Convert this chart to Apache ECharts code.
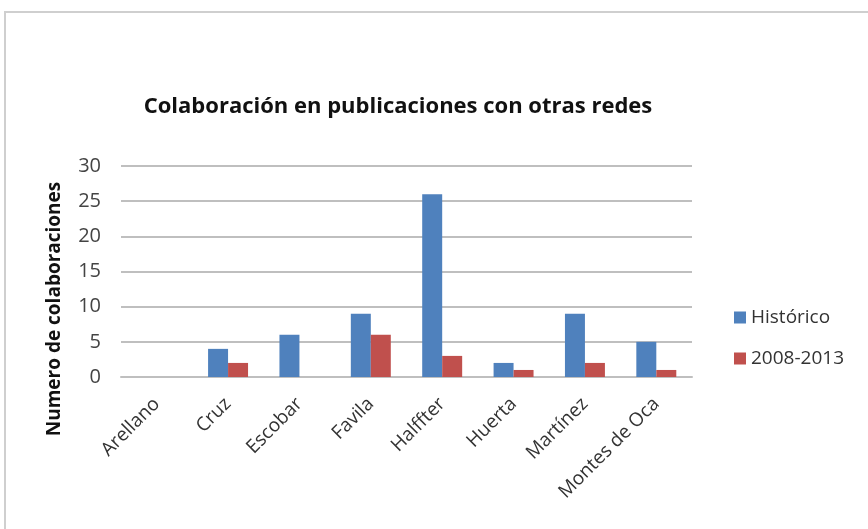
<!DOCTYPE html>
<html>
<head>
<meta charset="utf-8">
<script src="https://cdn.jsdelivr.net/npm/echarts@6/dist/echarts.min.js"></script>
<style>
  html, body { margin: 0; padding: 0; background: #fff; }
  #chart { width: 868px; height: 529px; }
</style>
</head>
<body>
<div id="chart"></div>
<script>
var categories = ['Arellano', 'Cruz', 'Escobar', 'Favila', 'Halffter', 'Huerta', 'Martínez', 'Montes de Oca']
var historico = [0, 4, 6, 9, 26, 2, 9, 5]
var reciente = [0, 2, 0, 6, 3, 1, 2, 1]
var seriesNames = ['Histórico', '2008-2013']

var chart = echarts.init(document.getElementById('chart'))
var fontFam = '"Open Sans", "Noto Sans", sans-serif'

var options = {
  color: ['#4F81BD', '#C0504D'],
  animation: false,
  textStyle: { fontFamily: fontFam },
  title: {
    text: 'Colaboración en publicaciones con otras redes',
    left: 393,
    textAlign: 'center',
    top: 91,
    textStyle: { fontSize: 22, fontWeight: 'bold', color: '#111', fontFamily: fontFam }
  },
  graphic: [{
    type: 'rect',
    silent: true,
    shape: { x: 5, y: 12, width: 900, height: 560 },
    style: { fill: 'none', stroke: '#cfcfcf', lineWidth: 2 }
  }, {
    // titulo del eje y
    type: 'text',
    silent: true,
    x: 55,
    y: 309,
    rotation: Math.PI / 2,
    style: {
      text: 'Numero de colaboraciones',
      fontSize: 19,
      fontWeight: 'bold',
      fontFamily: fontFam,
      fill: '#111',
      align: 'center',
      verticalAlign: 'middle'
    }
  }],
  legend: {
    orient: 'vertical',
    left: 729,
    top: 303,
    icon: 'rect',
    itemWidth: 12,
    itemHeight: 12,
    itemGap: 22,
    textStyle: { fontSize: 19, color: '#333', fontFamily: fontFam }
  },
  grid: { left: 121, right: 176, top: 166, bottom: 152 },
  xAxis: {
    type: 'category',
    data: categories,
    axisLine: { lineStyle: { color: '#bfbfbf', width: 2 } },
    axisTick: { show: false },
    axisLabel: { rotate: 45, interval: 0, fontSize: 19, color: '#333', margin: 24 }
  },
  yAxis: {
    type: 'value',
    min: 0,
    max: 30,
    interval: 5,
    axisLine: { show: false },
    axisTick: { show: false },
    axisLabel: { fontSize: 20, color: '#444', margin: 20 },
    splitLine: { lineStyle: { color: '#bfbfbf', width: 2 } }
  },
  series: [{
    name: seriesNames[0],
    type: 'bar',
    data: historico,
    barGap: '0%',
    barCategoryGap: '44%'
  }, {
    name: seriesNames[1],
    type: 'bar',
    data: reciente
  }]
}
chart.setOption(options)
</script>
</body>
</html>
